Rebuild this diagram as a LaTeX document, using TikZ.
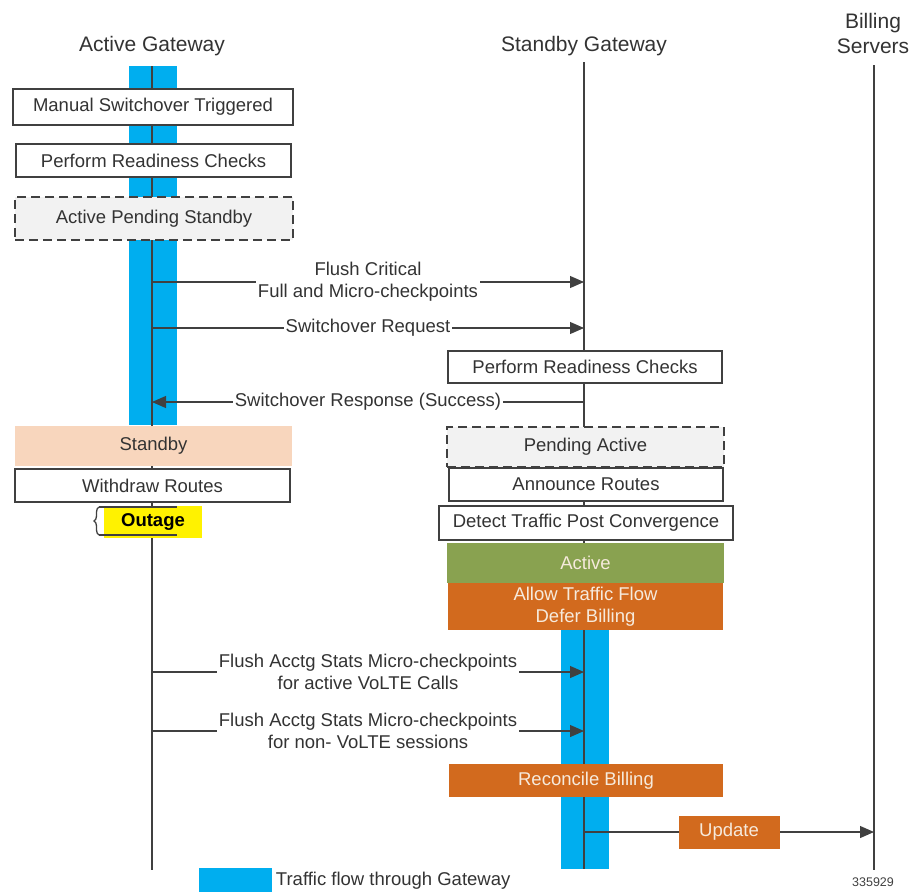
\documentclass[tikz,border=0pt]{standalone}
\usepackage{fontspec}
\setmainfont{Liberation Sans}
\usetikzlibrary{arrows.meta, positioning, decorations.pathreplacing}

\definecolor{flow}{RGB}{0,174,239}
\definecolor{peach}{RGB}{248,214,189}
\definecolor{pend}{RGB}{242,242,242}
\definecolor{olive}{RGB}{137,162,80}
\definecolor{rust}{RGB}{210,106,30}
\definecolor{ink}{RGB}{64,64,64}
\definecolor{cream}{RGB}{246,234,220}
\definecolor{hilite}{RGB}{255,242,0}

\tikzset{
	box/.style={draw=ink, line width=1.1pt, fill=white, text=ink!80!black, inner sep=0pt},
	pending/.style={box, dash pattern=on 9pt off 5pt, fill=pend},
	state/.style={fill=#1, inner sep=0pt, text=cream},
	msg/.style={fill=white, inner xsep=1.5pt, inner ysep=0.5pt, align=center, text=ink!80!black},
	life/.style={draw=ink, line width=1.2pt},
}

\begin{document}
\begin{tikzpicture}[x=1pt, y=-1pt, font=\fontsize{18.5}{22}\selectfont]
		\def\xa{152};
		\def\xs{584};
		\def\xb{874};

		\useasboundingbox (0,0) rectangle (912,892);

		% traffic flow bars
		\fill[flow] (129,66) rectangle (177,425);
		\fill[flow] (561,620) rectangle (609,869);

		% lifelines
		\coordinate (aTop) at (\xa,66);
		\coordinate (aBot) at (\xa,870);
		\coordinate (sTop) at (\xs,62);
		\coordinate (sBot) at (\xs,869);
		\coordinate (bTop) at (\xb,65);
		\coordinate (bBot) at (\xb,870);
		\draw[life] (aTop) -- (aBot);
		\draw[life] (sTop) -- (sBot);
		\draw[life] (bTop) -- (bBot);

		\node [font=\fontsize{21}{25}\selectfont, text=ink!80!black] (hdA) at (\xa,46) {Active Gateway};
		\node [font=\fontsize{21}{25}\selectfont, text=ink!80!black] (hdS) at (\xs,46) {Standby Gateway};
		\node [font=\fontsize{21}{25}\selectfont, text=ink!80!black, align=center] (hdB) at (873,33) {Billing\\Servers};

		% active gateway side
		\node [box, minimum width=280, minimum height=36] (trig) at (153,107) {Manual Switchover Triggered};
		\node [box, minimum width=275, minimum height=33] (chkA) at (153.5,160.5) {Perform Readiness Checks};
		\node [pending, minimum width=278, minimum height=43] (aPend) at (154,218.5) {Active Pending Standby};
		\node [state=peach, text=ink!80!black, minimum width=277, minimum height=40] (stby) at (153.5,446) {Standby};
		\node [box, minimum width=275, minimum height=33] (wdraw) at (152.5,485.5) {Withdraw Routes};
		\node [fill=hilite, inner sep=0pt, minimum width=98, minimum height=32, font=\fontsize{18.5}{22}\selectfont\bfseries] (outage) at (153,522) {Outage};

		\coordinate (brT) at (99,507);
		\coordinate (brB) at (99,535);
		\coordinate (brTe) at (177,507);
		\coordinate (brBe) at (177,535);
		\draw[ink, line width=1.3pt, decorate, decoration={brace, amplitude=5pt}] (brB) -- (brT);
		\draw[ink, line width=1.1pt] (brT) -- (brTe) (brB) -- (brBe);

		% standby gateway side
		\node [box, minimum width=274, minimum height=32] (chkS) at (585,367) {Perform Readiness Checks};
		\node [pending, minimum width=277, minimum height=40] (sPend) at (585.5,447) {Pending Active};
		\node [box, minimum width=274, minimum height=33] (annc) at (586,484.5) {Announce Routes};
		\node [box, minimum width=294, minimum height=34] (detect) at (586,523) {Detect Traffic Post Convergence};
		\node [state=olive, minimum width=277, minimum height=40] (actv) at (585.5,563) {Active};
		\node [state=rust, align=center, minimum width=275, minimum height=47] (allow) at (585.5,606.5) {Allow Traffic Flow\\Defer Billing};
		\node [state=rust, minimum width=274, minimum height=33] (recon) at (586,780.5) {Reconcile Billing};

		% messages
		\coordinate (m1a) at (\xa,282);	\coordinate (m1s) at (\xs,282);
		\coordinate (m2a) at (\xa,328);	\coordinate (m2s) at (\xs,328);
		\coordinate (m3a) at (\xa,402);	\coordinate (m3s) at (\xs,402);
		\coordinate (m4a) at (\xa,672);	\coordinate (m4s) at (\xs,672);
		\coordinate (m5a) at (\xa,731);	\coordinate (m5s) at (\xs,731);
		\coordinate (m6s) at (\xs,832);	\coordinate (m6b) at (\xb,832);

		\begin{scope}[-{Triangle[length=14pt,width=12pt]}, draw=ink, line width=1.1pt]
			\draw (m1a) -- node [msg] (flush) {Flush Critical\\Full and Micro-checkpoints} (m1s);
			\draw (m2a) -- node [msg] (req) {Switchover Request} (m2s);
			\draw (m3s) -- node [msg] (resp) {Switchover Response (Success)} (m3a);
			\draw (m4a) -- node [msg] (acct1) {Flush Acctg Stats Micro-checkpoints\\for active VoLTE Calls} (m4s);
			\draw (m5a) -- node [msg] (acct2) {Flush Acctg Stats Micro-checkpoints\\for non- VoLTE sessions} (m5s);
			\draw (m6s) -- node [state=rust, minimum width=101, minimum height=33] (upd) {Update} (m6b);
		\end{scope}

		% legend
		\node [fill=flow, inner sep=0pt, minimum width=73, minimum height=24, anchor=north west] (key) at (199,868) {};
		\node [right=0pt of key, text=ink!80!black] (keyTxt) {Traffic flow through Gateway};
		\node [font=\fontsize{12.5}{14}\selectfont, text=ink] (figNo) at (873,882) {335929};
\end{tikzpicture}
\end{document}
